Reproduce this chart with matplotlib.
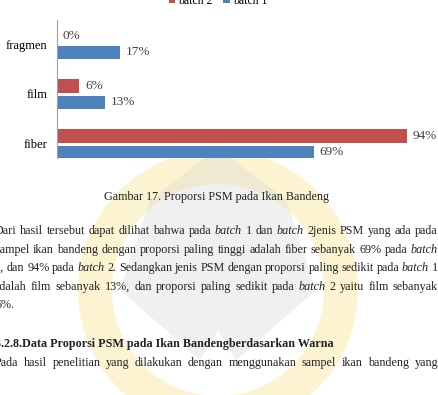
import numpy as np
import matplotlib.pyplot as plt
from matplotlib.patches import Wedge, Polygon

plt.rcParams['font.family'] = ['Liberation Serif', 'DejaVu Serif']

W, H = 439, 395

# chart data
categories = ['fiber', 'film', 'fragmen']
batch2 = [94, 6, 0]
batch1 = [69, 13, 17]

red = '#C0504D'
blue = '#4F81BD'

fig = plt.figure(figsize=(W / 100, H / 100), dpi=100)

# faint watermark (university logo, rough)
wm = fig.add_axes([0, 0, 1, 1], zorder=0)
wm.set_xlim(0, W)
wm.set_ylim(H, 0)
wm.axis('off')
wm.add_patch(Wedge((218, 290), 140, 0, 360, width=34, color='#F7E27A', alpha=0.35, lw=0))
wm.add_patch(Polygon([[218, 148], [150, 200], [120, 290], [200, 360], [218, 330],
                      [236, 360], [316, 290], [286, 200]], closed=True,
                     color='#D0D0D0', alpha=0.3, lw=0))

ax = fig.add_axes([57 / W, 1 - 158 / H, 372 / W, 138 / H], zorder=2)
ax.patch.set_alpha(0)
y = np.arange(len(categories))
r2 = ax.barh(y + 0.165, batch2, height=0.27, color=red, label='batch 2')
r1 = ax.barh(y - 0.165, batch1, height=0.27, color=blue, label='batch 1')
ax.bar_label(r2, labels=[f'{v}%' for v in batch2], padding=4, fontsize=9.5, color='#404040')
ax.bar_label(r1, labels=[f'{v}%' for v in batch1], padding=4, fontsize=9.5, color='#404040')
ax.set_xlim(0, 100)
ax.set_ylim(-0.28, 2.48)
ax.set_yticks(y)
ax.set_yticklabels(categories, fontsize=9)
ax.tick_params(axis='y', length=0, pad=7)
ax.set_xticks([])
for s in ['top', 'right', 'bottom']:
    ax.spines[s].set_visible(False)
ax.spines['left'].set_color('#A0A0A0')

# legend sits mostly above the crop, only its lower edge shows
leg = fig.legend([r2, r1], ['batch 2', 'batch 1'], loc='center', ncol=2, frameon=False,
                 bbox_to_anchor=(218 / W, 1 - 1 / H), fontsize=8.5, handlelength=0.55,
                 handleheight=0.55, columnspacing=0.9, handletextpad=0.25)
leg.set_zorder(10)

fs = 8.7
fig.text(217 / W, 1 - 197 / H, 'Gambar 17. Proporsi PSM pada Ikan Bandeng',
         ha='center', va='center', fontsize=fs, color='#222222')

# paragraph lines: (words, y center, justified)
lines = [
    ('Dari hasil tersebut dapat dilihat bahwa pada _batch 1 dan _batch 2jenis PSM yang ada pada', 231, True),
    ('sampel ikan bandeng dengan proporsi paling tinggi adalah fiber sebanyak 69% pada _batch', 250, True),
    ('1, dan 94% pada _batch 2. Sedangkan jenis PSM dengan proporsi paling sedikit pada _batch 1', 268, True),
    ('adalah film sebanyak 13%, dan proporsi paling sedikit pada _batch 2 yaitu film sebanyak', 287, True),
    ('6%.', 305, False),
    ('Pada hasil penelitian yang dilakukan dengan menggunakan sampel ikan bandeng yang', 363, True),
]
left, right = -5, 438
renderer = fig.canvas.get_renderer()

for txt, yc, just in lines:
    words = txt.split(' ')
    items = []
    for w in words:
        style = 'italic' if w.startswith('_') else 'normal'
        t = fig.text(0, 1 - yc / H, w.lstrip('_'), fontsize=fs, style=style,
                     va='center', ha='left', color='#222222')
        wd = t.get_window_extent(renderer).width
        items.append((t, wd))
    total = sum(wd for _, wd in items)
    if just:
        gap = (right - left - total) / (len(items) - 1)
    else:
        gap = 3
    x = left
    for t, wd in items:
        t.set_x(x / W)
        x += wd + gap

fig.text(-5 / W, 1 - 344 / H, '3.2.8.Data Proporsi PSM pada Ikan Bandengberdasarkan Warna',
         fontsize=fs, weight='bold', va='center', ha='left', color='#222222')

fig.savefig('out.png', dpi=100)
